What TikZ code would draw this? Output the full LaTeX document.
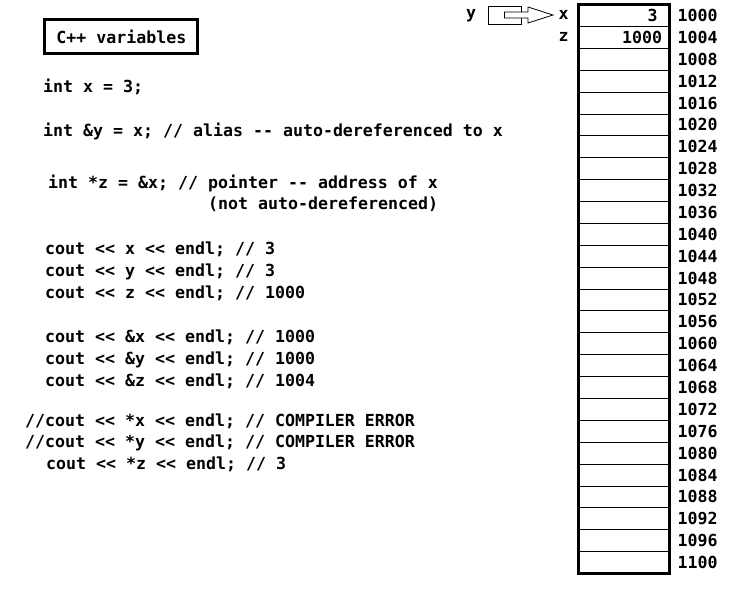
\documentclass[tikz,border=0pt]{standalone}
\usepackage{fontspec}
\setmonofont{DejaVu Sans Mono}
\usetikzlibrary{positioning}

\newcommand\codestyle{\fontsize{16.6}{20}\selectfont\ttfamily\bfseries}
\newcommand\memleft{578.5}
\newcommand\memtop{4.5}
\newcommand\memcellwidth{91}
\newcommand\memcellheight{21.885}

\tikzset{
  code/.style={anchor=base west, inner sep=0pt, font=\codestyle},
  memcell/.style={draw, line width=0.8pt, inner sep=0pt,
    minimum width=\memcellwidth pt, minimum height=\memcellheight pt},
  memaddr/.style={anchor=west, inner sep=0pt, font=\codestyle},
  memval/.style={anchor=east, inner sep=0pt, font=\codestyle},
  varname/.style={inner sep=0pt, font=\codestyle}
}

\begin{document}
\begin{tikzpicture}[x=1pt, y=-1pt]
  \useasboundingbox (0,0) rectangle (752,603);

  \node[draw, line width=3pt, inner sep=0pt, minimum width=153pt,
    minimum height=34pt, font=\codestyle] (title) at (121.3,36.7) {C++ variables};

  \node[code] (declx) at (43,92) {int x = 3;};
  \node[code] (decly) at (43,136) {int \&y = x; // alias -{}- auto-dereferenced to x};
  \node[code] (declz) at (48,188) {int *z = \&x; // pointer -{}- address of x};
  \node[code] (declznote) at (208,209) {(not auto-dereferenced)};

  \node[code] (outx) at (45,254) {cout << x << endl; // 3};
  \node[code] (outy) at (45,276) {cout << y << endl; // 3};
  \node[code] (outz) at (45,298) {cout << z << endl; // 1000};

  \node[code] (outaddrx) at (45,342) {cout << \&x << endl; // 1000};
  \node[code] (outaddry) at (45,364) {cout << \&y << endl; // 1000};
  \node[code] (outaddrz) at (45,386) {cout << \&z << endl; // 1004};

  \node[code] (outderefx) at (25,426) {//cout << *x << endl; // COMPILER ERROR};
  \node[code] (outderefy) at (25,447) {//cout << *y << endl; // COMPILER ERROR};
  \node[code] (outderefz) at (46,469) {cout << *z << endl; // 3};

  % memory column
  \foreach \i in {0,...,25}{
    \pgfmathtruncatemacro\addr{1000+4*\i}
    \node[memcell] (cell\i) at (\memleft+\memcellwidth/2, \memtop+\memcellheight*\i+\memcellheight/2) {};
    \node[memaddr, right=7.5pt of cell\i] (addr\i) {\addr};
  }
  \draw[line width=3pt] (cell0.north west) rectangle (cell25.south east);

  \node[memval] (valx) at ([xshift=-12pt]cell0.east) {3};
  \node[memval] (valz) at ([xshift=-7.5pt]cell1.east) {1000};
  \node[varname] (namex) at ([xshift=-14.5pt]cell0.west) {x};
  \node[varname] (namez) at ([xshift=-14.5pt]cell1.west) {z};

  % y is an alias of x
  \node[varname, anchor=base] (namey) at (471,18) {y};
  \node[draw, line width=0.8pt, minimum width=33pt, minimum height=18pt] (aliasbox) at (504.5,15) {};
  \draw[line width=0.8pt, fill=white] (aliasbox.center) ++(0,-3) -- ++(23.5,0) -- ++(0,-5)
    -- ++(25,8) -- ++(-25,8) -- ++(0,-5) -- ++(-23.5,0) -- cycle;
\end{tikzpicture}
\end{document}
